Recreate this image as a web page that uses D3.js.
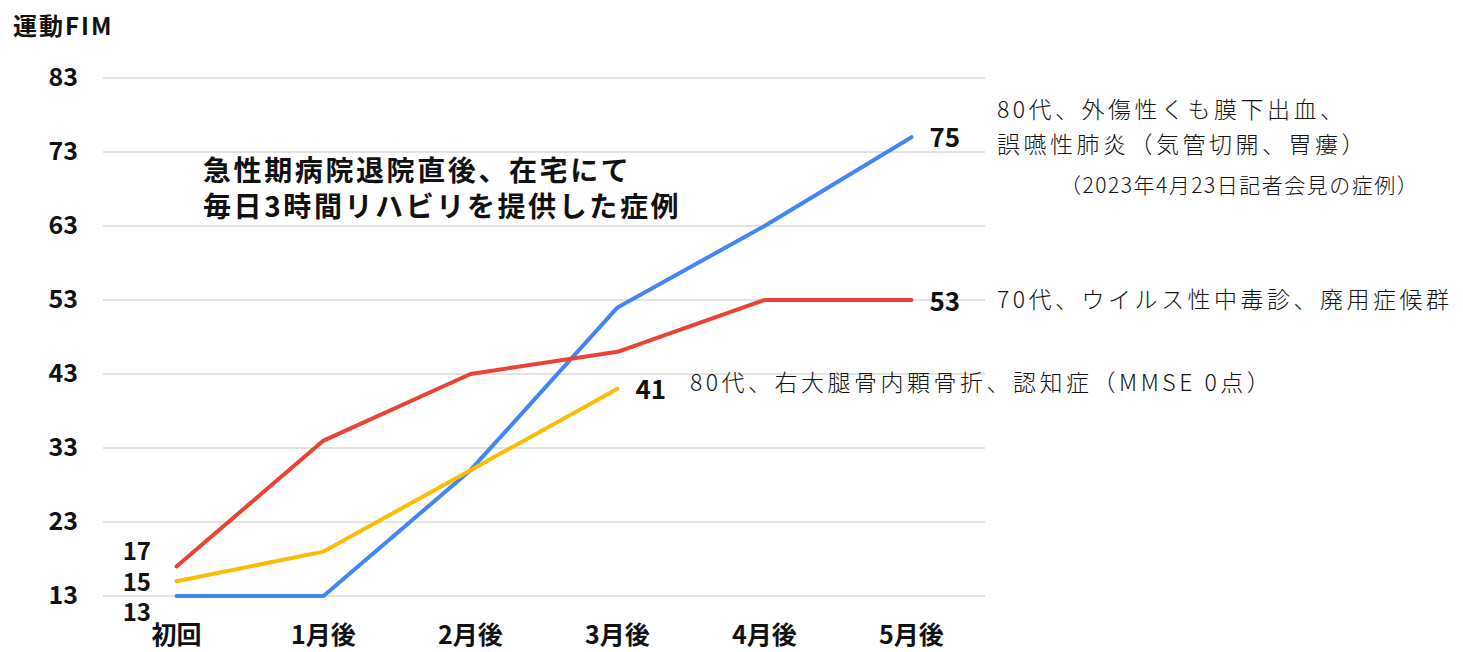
<!DOCTYPE html>
<html>
<head>
<meta charset="utf-8">
<script src="https://cdn.jsdelivr.net/npm/d3@7"></script>
<style>
  body { margin: 0; background: #fff; }
  svg text { font-family: "Noto Sans CJK JP", "Noto Sans", sans-serif; fill: #111; }
</style>
</head>
<body>
<div class="graph"></div>
<script>
// data
const months = ["初回", "1月後", "2月後", "3月後", "4月後", "5月後"];
const yTicks = [13, 23, 33, 43, 53, 63, 73, 83];
const blueVals = [13, 13, 30, 52, 63, 75];
const redVals = [17, 34, 43, 46, 53, 53];
const yellowVals = [15, 19, 30, 41];
const blueNote = ["80代、外傷性くも膜下出血、", "誤嚥性肺炎（気管切開、胃瘻）"];
const blueSource = "（2023年4月23日記者会見の症例）";
const redNote = "70代、ウイルス性中毒診、廃用症候群";
const yellowNote = "80代、右大腿骨内顆骨折、認知症（MMSE 0点）";
const titleLines = ["急性期病院退院直後、在宅にて", "毎日3時間リハビリを提供した症例"];

const W = 1463, H = 652;
const margin = {top: 78, right: 478, bottom: 56, left: 103};

const svg = d3.select(".graph").append("svg")
  .attr("width", W)
  .attr("height", H);

const x = d3.scaleBand().domain(months).range([margin.left, W - margin.right]);
const y = d3.scaleLinear().domain([13, 83]).range([H - margin.bottom, margin.top]);
const cx = (d) => x(d) + x.bandwidth() / 2;

// gridlines
svg.append("g")
  .selectAll("line")
  .data(yTicks)
  .enter().append("line")
    .attr("x1", margin.left)
    .attr("x2", W - margin.right)
    .attr("y1", d => y(d))
    .attr("y2", d => y(d))
    .style("stroke", "#d9d9d9")
    .style("stroke-width", 1.5);

// y labels
svg.append("g")
  .selectAll("text")
  .data(yTicks)
  .enter().append("text")
    .attr("x", 78)
    .attr("y", d => y(d) - 1)
    .attr("dy", "0.36em")
    .attr("text-anchor", "end")
    .style("font-weight", "bold")
    .style("font-size", "25px")
    .text(d => d);

// x labels
svg.append("g")
  .selectAll("text")
  .data(months)
  .enter().append("text")
    .attr("x", d => cx(d))
    .attr("y", 644)
    .attr("text-anchor", "middle")
    .style("font-weight", "bold")
    .style("font-size", "25px")
    .text(d => d);

svg.append("text")
  .attr("x", 13)
  .attr("y", 35)
  .style("font-weight", "bold")
  .style("font-size", "24px")
  .style("letter-spacing", "2px")
  .text("運動FIM");

const line = d3.line()
  .x((d, i) => cx(months[i]))
  .y(d => y(d));

const series = [
  {vals: blueVals, color: "#4285f4"},
  {vals: redVals, color: "#ea4335"},
  {vals: yellowVals, color: "#fbbc04"}
];

svg.append("g")
  .selectAll("path")
  .data(series)
  .enter().append("path")
    .attr("d", d => line(d.vals))
    .style("fill", "none")
    .style("stroke", d => d.color)
    .style("stroke-width", 4)
    .style("stroke-linecap", "round")
    .style("stroke-linejoin", "round");

// value labels
function valueLabel(px, py, txt, size) {
  svg.append("text")
    .attr("x", px)
    .attr("y", py)
    .attr("dy", "0.36em")
    .attr("text-anchor", px < 300 ? "end" : "start")
    .style("font-weight", "bold")
    .style("font-size", size + "px")
    .text(txt);
}
const last = months.length - 1;
valueLabel(cx(months[last]) + 18, y(blueVals[last]), blueVals[last], 26);
valueLabel(cx(months[last]) + 18, y(redVals[last]) + 2, redVals[last], 26);
valueLabel(cx(months[3]) + 18, y(yellowVals[3]) + 1, yellowVals[3], 26);
valueLabel(151, y(redVals[0]) - 15, redVals[0], 24);
valueLabel(151, y(yellowVals[0]) + 1, yellowVals[0], 24);
valueLabel(151, y(blueVals[0]) + 16, blueVals[0], 24);

// title inside plot
svg.append("g")
  .selectAll("text")
  .data(titleLines)
  .enter().append("text")
    .attr("x", 203)
    .attr("y", (d, i) => 181 + i * 36)
    .style("font-weight", "bold")
    .style("font-size", "28px")
    .style("letter-spacing", "2.6px")
    .text(d => d);

// series notes
function note(px, py, txt, size, spacing) {
  svg.append("text")
    .attr("x", px)
    .attr("y", py)
    .style("font-size", size + "px")
    .style("letter-spacing", spacing + "px")
    .style("font-weight", 300)
    .text(txt);
}
note(997, 118, blueNote[0], 23, 3.5);
note(997, 153, blueNote[1], 23, 3.5);
note(1060, 193, blueSource, 21, 1.5);
note(997, 308, redNote, 23, 3.5);
note(690, 391, yellowNote, 23, 3.5);
</script>
</body>
</html>
